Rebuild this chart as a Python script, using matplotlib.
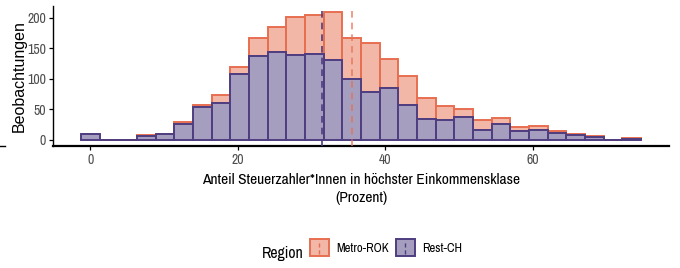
import numpy as np
import matplotlib
matplotlib.use("Agg")
import matplotlib.pyplot as plt
from matplotlib.patches import Rectangle
from matplotlib.lines import Line2D
from matplotlib.legend_handler import HandlerBase

# Histogramm-Daten (30 Klassen, gestapelt: Rest-CH unten, Metro-ROK oben)
bin_start = 0.0
bin_width = 2.531
rest_ch = [9, 0, 0, 6, 9, 26, 53, 60, 108, 137, 144, 139, 141, 130, 100,
           79, 84, 57, 34, 32, 37, 16, 25, 15, 16, 11, 8, 4, 0, 1]
metro_rok = [0, 0, 0, 1, 1, 3, 4, 13, 11, 30, 41, 62, 63, 79, 67,
             80, 48, 48, 35, 24, 13, 17, 10, 5, 6, 4, 1, 2, 0, 1]
mean_rest = 31.4
mean_metro = 35.5

regions = ["Metro-ROK", "Rest-CH"]
edge_cols = {"Metro-ROK": "#E76F51", "Rest-CH": "#4E3D80"}
fill_cols = {"Metro-ROK": "#F3B7A8", "Rest-CH": "#A69EBF"}

font_narrow = ["Archivo Narrow", "Liberation Sans", "DejaVu Sans"]
font_reg = ["Liberation Sans", "DejaVu Sans"]

centers = bin_start + np.arange(len(rest_ch)) * bin_width
rest = np.array(rest_ch)
metro = np.array(metro_rok)

fig = plt.figure(figsize=(6.8, 2.68), dpi=100)
ax = fig.add_axes([0.078, 0.455, 0.906, 0.523])

ax.bar(centers, metro, bottom=rest, width=bin_width, color=fill_cols["Metro-ROK"],
       edgecolor=edge_cols["Metro-ROK"], linewidth=1.4, zorder=2)
ax.bar(centers, rest, width=bin_width, color=fill_cols["Rest-CH"],
       edgecolor=edge_cols["Rest-CH"], linewidth=1.4, zorder=3)

ax.axvline(mean_metro, color=edge_cols["Metro-ROK"], alpha=0.8, ls=(0, (4, 3)), lw=1.2, zorder=4)
ax.axvline(mean_rest, color=edge_cols["Rest-CH"], ls=(0, (4, 3)), lw=1.2, zorder=4)

ax.set_xlim(-5.07, 78.5)
ax.set_ylim(-10.5, 219.5)
ax.set_xticks([0, 20, 40, 60])
ax.set_yticks([0, 50, 100, 150, 200])

for s in ["top", "right"]:
    ax.spines[s].set_visible(False)
ax.spines["left"].set_linewidth(1.0)
ax.spines["bottom"].set_linewidth(1.6)
ax.tick_params(length=3, width=0.9, color="black", labelcolor="#4D4D4D", pad=2)
for lab in ax.get_xticklabels() + ax.get_yticklabels():
    lab.set_family(font_narrow)
    lab.set_fontsize(10)

ax.set_ylabel("Beobachtungen", family=font_reg, fontsize=11.5)
ax.yaxis.set_label_coords(-0.042, 0.5)
ax.set_xlabel("Anteil Steuerzahler*Innen in höchster Einkommensklase\n(Prozent)",
              family=font_narrow, fontsize=11.2, linespacing=1.4, labelpad=4)


class Key:
    def __init__(self, face, edge):
        self.face = face
        self.edge = edge


class KeyHandler(HandlerBase):
    def create_artists(self, legend, orig, xdescent, ydescent, width, height, fontsize, trans):
        r = Rectangle((-xdescent, -ydescent), width, height, facecolor=orig.face,
                      edgecolor=orig.edge, lw=1.4, transform=trans)
        l = Line2D([-xdescent + width / 2] * 2, [-ydescent + 2, -ydescent + height - 2],
                   color=orig.edge, ls=(0, (3, 2)), lw=1, transform=trans)
        return [r, l]


handles = [Key(fill_cols[r], edge_cols[r]) for r in regions]
fig.text(0.385, 0.037, "Region", family=font_narrow, fontsize=11.3, va="baseline", ha="left")
leg = fig.legend(handles, regions, handler_map={Key: KeyHandler()}, ncol=2, frameon=False,
                 loc="center left", bbox_to_anchor=(0.439, 0.075), handlelength=1.45,
                 handleheight=1.65, handletextpad=0.6, columnspacing=0.55,
                 prop={"family": font_narrow, "size": 9.2})

fig.add_artist(Line2D([0.0, 0.007], [1 - 146 / 268] * 2, color="black", lw=1))

fig.savefig("out.png", dpi=100)
